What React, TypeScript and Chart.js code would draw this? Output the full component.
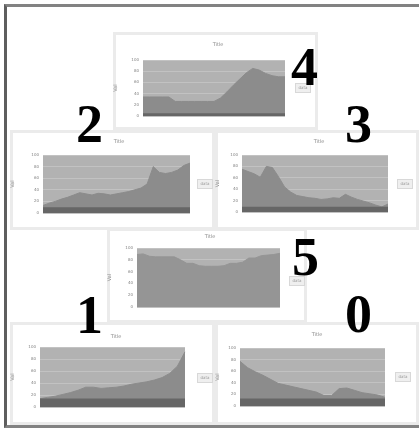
import { useEffect, useRef } from "react";
import { Chart, registerables } from "chart.js";
Chart.register(...registerables);

// ---------- data ----------
const P4_LABELS = ["1","2","3","4","5","6","7","8","9","10","11","12","13","14","15","16","17","18","19","20","21","22","23"];
const P4_MAIN = [34,34,34,34,34,26,26,26,26,26,26,26,32,43,55,66,77,85,82,76,72,70,70];
const P4_BASE = [5,5,5,5,5,5,5,5,5,5,5,5,5,5,5,5,5,5,5,5,5,5,5];

const P2_LABELS = ["1","2","3","4","5","6","7","8","9","10","11","12","13","14","15","16","17","18","19","20","21","22","23","24","25"];
const P2_MAIN = [13,17,20,24,27,31,35,33,31,34,33,31,33,35,37,40,43,50,80,70,68,70,74,82,86];
const P2_BASE = [10,10,10,10,10,10,10,10,10,10,10,10,10,10,10,10,10,10,10,10,10,10,10,10,10];

const P3_LABELS = ["1","2","3","4","5","6","7","8","9","10","11","12","13","14","15","16","17","18","19","20","21","22","23","24","25"];
const P3_MAIN = [75,71,67,61,80,78,62,44,35,29,27,25,24,22,23,25,24,31,26,22,19,16,12,9,14];
const P3_BASE = [9,9,9,9,9,9,9,9,9,9,9,9,9,9,9,9,9,9,9,9,9,9,9,9,9];

const P5_LABELS = ["1","2","3","4","5","6","7","8","9","10","11","12","13","14","15","16","17","18","19","20","21","22","23","24"];
const P5_MAIN = [89,90,86,85,85,85,85,80,74,74,70,69,69,69,70,74,74,76,83,83,87,88,89,91];

const P1_LABELS = ["1","2","3","4","5","6","7","8","9","10","11","12","13","14","15","16","17","18","19","20"];
const P1_MAIN = [14,16,18,21,24,28,33,33,31,32,33,35,38,40,42,45,49,56,68,92];
const P1_BASE = [14,14,14,14,14,14,14,14,14,14,14,14,14,14,14,14,14,14,14,14];

const P0_LABELS = ["1","2","3","4","5","6","7","8","9","10","11","12","13","14","15","16","17","18","19","20"];
const P0_MAIN = [77,66,59,53,46,39,36,33,30,27,24,18,18,30,31,27,23,21,19,15];
const P0_BASE = [13,13,13,13,13,13,13,13,13,13,13,13,13,13,13,13,13,13,13,13];

type PanelProps = {
  box: [number, number, number, number];
  plot: [number, number, number, number];
  labels: string[];
  main: number[];
  base?: number[];
  every: number;
  yEvery: number;
  titlePos: [number, number];
  legendPos: [number, number];
  fill: string;
};

function Panel(p: PanelProps) {
  const ref = useRef<HTMLCanvasElement>(null);
  const [bx, by, bw, bh] = p.box;
  const [pl, pt, pr, pb] = p.plot;
  useEffect(() => {
    const XH = 10;
    const datasets: any[] = [];
    if (p.base) {
      datasets.push({
        data: p.base,
        fill: "origin",
        backgroundColor: "#666666",
        borderColor: "#666666",
        borderWidth: 0,
        pointRadius: 0,
      });
    }
    datasets.push({
      data: p.main,
      fill: "origin",
      backgroundColor: p.fill,
      borderColor: p.fill,
      borderWidth: 1,
      pointRadius: 0,
      tension: 0,
    });
    const deco = {
      id: "deco",
      beforeDraw(c: any) {
        const { ctx, chartArea: a } = c;
        ctx.save();
        ctx.fillStyle = "#b2b2b2";
        ctx.fillRect(a.left, a.top, a.right - a.left, a.bottom - a.top);
        ctx.restore();
      },
      afterDraw(c: any) {
        const ctx = c.ctx;
        ctx.save();
        ctx.fillStyle = "#8c8c8c";
        ctx.font = "5px 'DejaVu Sans'";
        ctx.textAlign = "center";
        ctx.textBaseline = "middle";
        ctx.fillText("Title", p.titlePos[0] - bx, p.titlePos[1] - by);
        const lx = p.legendPos[0] - bx;
        const ly = p.legendPos[1] - by;
        ctx.fillStyle = "#efefef";
        ctx.fillRect(lx - 8, ly - 5, 16, 10);
        ctx.strokeStyle = "#d8d8d8";
        ctx.lineWidth = 1;
        ctx.strokeRect(lx - 7.5, ly - 4.5, 15, 9);
        ctx.fillStyle = "#999";
        ctx.font = "4px 'DejaVu Sans'";
        ctx.fillText("data", lx, ly);
        ctx.restore();
      },
    };
    const chart = new Chart(ref.current!, {
      type: "line",
      data: { labels: p.labels, datasets },
      options: {
        animation: false,
        responsive: false,
        devicePixelRatio: 1,
        layout: {
          padding: { left: 0, top: pt - by, right: bx + bw - pr, bottom: by + bh - pb - XH },
        },
        plugins: { legend: { display: false }, title: { display: false }, tooltip: { enabled: false } },
        scales: {
          x: {
            grid: { display: false },
            border: { display: false },
            ticks: {
              autoSkip: false,
              maxRotation: 0,
              font: { size: 4, family: "DejaVu Sans" },
              color: "#8a8a8a",
              padding: 3,
              callback: (_v: any, i: number) => (i % p.every === 0 ? p.labels[i] : ""),
            },
            afterFit: (s: any) => { s.height = XH; },
          },
          y: {
            min: 0,
            max: 100,
            ticks: {
              stepSize: 10,
              font: { size: 4, family: "DejaVu Sans" },
              color: "#828282",
              padding: 4,
              callback: (v: any, i: number) => (i % p.yEvery === 0 ? String(v) : ""),
            },
            grid: { color: "#c2c2c2", drawTicks: false },
            border: { display: false },
            title: { display: true, text: "Val", font: { size: 5, family: "DejaVu Sans" }, color: "#8a8a8a", padding: 0 },
            afterFit: (s: any) => { s.width = pl - bx; },
          },
        },
      },
      plugins: [deco],
    } as any);
    return () => chart.destroy();
  }, []);
  return (
    <div
      style={{
        position: "absolute",
        left: bx,
        top: by,
        width: bw,
        height: bh,
        background: "#fff",
        boxShadow: "inset 0 0 0 3px #ebebeb",
      }}
    >
      <canvas ref={ref} width={bw} height={bh} style={{ position: "absolute", left: 0, top: 0 }} />
    </div>
  );
}

function Digit({ ch, left, top }: { ch: string; left: number; top: number }) {
  return (
    <div
      style={{
        position: "absolute",
        left,
        top,
        fontFamily: "'Liberation Serif', serif",
        fontWeight: "bold",
        fontSize: 54,
        lineHeight: "54px",
        color: "#000",
      }}
    >
      {ch}
    </div>
  );
}

export default function App() {
  return (
    <div style={{ position: "fixed", left: 0, top: 0, width: 419, height: 429, background: "#fff", overflow: "hidden" }}>
      <div
        style={{
          position: "absolute",
          left: 4,
          top: 4,
          width: 415,
          height: 424,
          boxSizing: "border-box",
          borderTop: "3px solid #828282",
          borderLeft: "3px solid #5e5e5e",
          borderBottom: "3px solid #828282",
        }}
      />
      <Panel box={[113, 32, 205, 98]} plot={[143, 60, 285, 116]} labels={P4_LABELS} main={P4_MAIN} base={P4_BASE} every={4} yEvery={1} titlePos={[218, 45]} legendPos={[303, 88]} fill="#8c8c8c" />
      <Panel box={[10, 130, 205, 100]} plot={[43, 155, 190, 213]} labels={P2_LABELS} main={P2_MAIN} base={P2_BASE} every={2} yEvery={2} titlePos={[119, 142]} legendPos={[205, 184]} fill="#8c8c8c" />
      <Panel box={[215, 130, 204, 100]} plot={[242, 155, 388, 212]} labels={P3_LABELS} main={P3_MAIN} base={P3_BASE} every={2} yEvery={1} titlePos={[319, 142]} legendPos={[405, 184]} fill="#8c8c8c" />
      <Panel box={[107, 228, 200, 95]} plot={[137, 248, 280, 307]} labels={P5_LABELS} main={P5_MAIN} every={5} yEvery={2} titlePos={[210, 237]} legendPos={[297, 281]} fill="#959595" />
      <Panel box={[10, 322, 205, 103]} plot={[40, 347, 185, 407]} labels={P1_LABELS} main={P1_MAIN} base={P1_BASE} every={1} yEvery={2} titlePos={[116, 337]} legendPos={[205, 378]} fill="#8c8c8c" />
      <Panel box={[215, 322, 204, 103]} plot={[240, 348, 385, 406]} labels={P0_LABELS} main={P0_MAIN} base={P0_BASE} every={1} yEvery={2} titlePos={[317, 335]} legendPos={[403, 377]} fill="#8c8c8c" />
      <Digit ch="4" left={291} top={40} />
      <Digit ch="2" left={76} top={97} />
      <Digit ch="3" left={345} top={97} />
      <Digit ch="5" left={292} top={230} />
      <Digit ch="1" left={76} top={288} />
      <Digit ch="0" left={345} top={287} />
    </div>
  );
}
